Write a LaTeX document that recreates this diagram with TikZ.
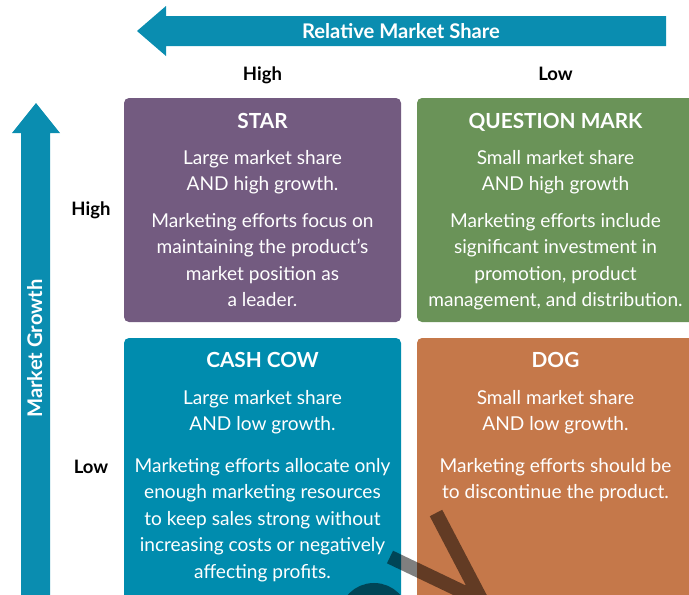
\documentclass[tikz,border=0pt]{standalone}
\usepackage{fontspec}
\setmainfont{Lato}
\definecolor{starpurple}{HTML}{735B80}
\definecolor{qmgreen}{HTML}{6A9358}
\definecolor{cowteal}{HTML}{008CAE}
\definecolor{dogorange}{HTML}{C5784A}
\definecolor{axisteal}{HTML}{0A8DB0}
\begin{document}
\begin{tikzpicture}[x=1pt,y=-1pt,
  quad/.style={rounded corners=5pt},
  ttl/.style={anchor=base,text=white,inner sep=0pt,font=\fontsize{20.8}{24}\selectfont\bfseries},
  txt/.style={anchor=base,text=white,inner sep=0pt,font=\fontsize{19.1}{22}\selectfont},
  lbl/.style={anchor=base,inner sep=0pt,font=\fontsize{18.5}{20}\selectfont\bfseries},
  axistxt/.style={anchor=base,text=white,inner sep=0pt,font=\fontsize{20.2}{22}\selectfont\bfseries},
  axisarrow/.style={fill=axisteal},
  stamp/.style={line width=14pt,black,opacity=.5}]
\useasboundingbox (0,0) rectangle (689,595);
\begin{scope}
\clip (0,0) rectangle (689,595);

% axis arrows
\fill[axisarrow] (666,16) -- (166,16) -- (166,6) -- (137,31) -- (166,56) -- (166,46) -- (666,46) -- cycle;
\node[axistxt] (rms) at (401,38) {Relative Market Share};
\fill[axisarrow] (21,600) -- (21,133) -- (12,133) -- (36,103) -- (60,133) -- (50,133) -- (50,600) -- cycle;
\node[axistxt,rotate=90] (mg) at (42,348.5) {Market Growth};

% axis levels
\node[lbl] (share-high) at (262.5,80) {High};
\node[lbl] (share-low) at (555.5,80) {Low};
\node[lbl] (growth-high) at (91,215) {High};
\node[lbl] (growth-low) at (91,473) {Low};

% quadrants
\fill[quad,starpurple] (124,98) rectangle (401,322);
\fill[quad,qmgreen] (417,98) rectangle (705,322);
\fill[quad,cowteal] (124,338) rectangle (401,615);
\fill[quad,dogorange] (417,338) rectangle (705,615);

% STAR
\node[ttl] (star) at (262.5,128) {STAR};
\foreach \y/\t [count=\i] in {164/Large market share, 190/AND high growth.,
  227/Marketing efforts focus on, 253/maintaining the product’s,
  280/market position as, 306/a leader.}
  \node[txt] (star-\i) at (262.5,\y) {\t};

% QUESTION MARK
\node[ttl] (qm) at (555.5,128) {QUESTION MARK};
\foreach \y/\t [count=\i] in {164/Small market share, 190/AND high growth,
  227/Marketing efforts include, 253/significant investment in,
  280/{promotion, product}, 306/{management, and distribution.}}
  \node[txt] (qm-\i) at (555.5,\y) {\t};

% CASH COW
\node[ttl] (cow) at (262.5,367) {CASH COW};
\foreach \y/\t [count=\i] in {404/Large market share, 430/AND low growth.,
  472/Marketing efforts allocate only, 498/enough marketing resources,
  525/to keep sales strong without, 551/increasing costs or negatively,
  578/affecting profits.}
  \node[txt] (cow-\i) at (262.5,\y) {\t};

% DOG
\node[ttl] (dog) at (555.5,367) {DOG};
\foreach \y/\t [count=\i] in {404/Small market share, 430/AND low growth.,
  472/Marketing efforts should be, 498/to discontinue the product.}
  \node[txt] (dog-\i) at (555.5,\y) {\t};

% stamp strokes over the lower row
\draw[stamp] (390,557) -- (482,601) -- (436,513);
\draw[stamp] (374,618) circle (28);
\end{scope}
\end{tikzpicture}
\end{document}
